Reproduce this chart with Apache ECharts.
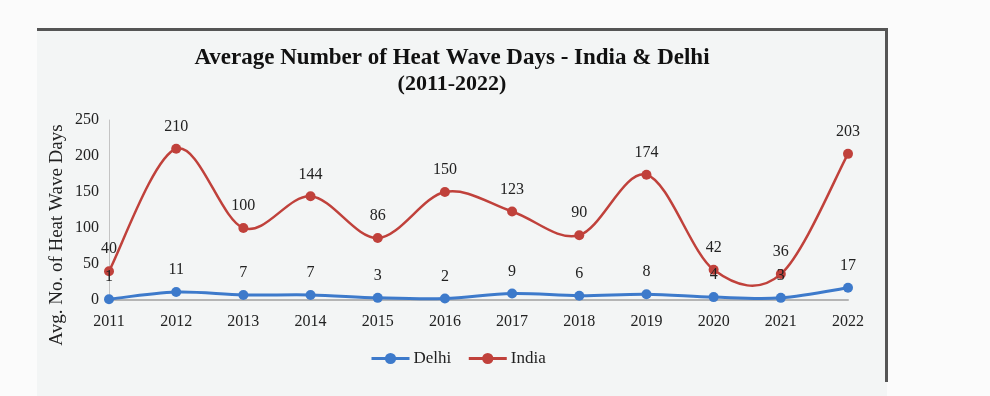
<!DOCTYPE html>
<html>
<head>
<meta charset="utf-8">
<script src="https://cdn.jsdelivr.net/npm/echarts@6/dist/echarts.min.js"></script>
<style>
html,body{margin:0;padding:0;background:#fbfbfb;}
#chart{width:990px;height:396px;}
</style>
</head>
<body>
<div id="chart"></div>
<script>
var years = ['2011','2012','2013','2014','2015','2016','2017','2018','2019','2020','2021','2022'];
var delhi = [1, 11, 7, 7, 3, 2, 9, 6, 8, 4, 3, 17];
var india = [40, 210, 100, 144, 86, 150, 123, 90, 174, 42, 36, 203];
var titleLine1 = 'Average Number of Heat Wave Days - India & Delhi';
var titleLine2 = '(2011-2022)';
var yAxisTitle = 'Avg. No. of Heat Wave Days';

var serif = '"Liberation Serif", "Times New Roman", serif';
var DELHI_COLOR = '#3d7acb';
var INDIA_COLOR = '#c0413b';

// Excel-style (Catmull-Rom) smoothed segment between point i and i+1, using the chart's own scales
function smoothSegment(values, color, width) {
  return function (params, api) {
    var i = params.dataIndex;
    var n = values.length;
    if (i >= n - 1) return null;
    var p0 = api.coord([Math.max(i - 1, 0), values[Math.max(i - 1, 0)]]);
    var p1 = api.coord([i, values[i]]);
    var p2 = api.coord([i + 1, values[i + 1]]);
    var p3 = api.coord([Math.min(i + 2, n - 1), values[Math.min(i + 2, n - 1)]]);
    var k = 1 / 6;
    return {
      type: 'bezierCurve',
      shape: {
        x1: p1[0], y1: p1[1],
        cpx1: p1[0] + (p2[0] - p0[0]) * k, cpy1: p1[1] + (p2[1] - p0[1]) * k,
        cpx2: p2[0] - (p3[0] - p1[0]) * k, cpy2: p2[1] - (p3[1] - p1[1]) * k,
        x2: p2[0], y2: p2[1]
      },
      style: {stroke: color, lineWidth: width, fill: null}
    };
  };
}

function pairs(values) { return values.map(function (v, i) { return [i, v]; }); }

var chart = echarts.init(document.getElementById('chart'));
chart.setOption({
  backgroundColor: '#fbfbfb',
  animation: false,
  graphic: [
    {type: 'rect', z: -10, shape: {x: 37, y: 29, width: 850, height: 367}, style: {fill: '#f3f5f5'}},
    {type: 'line', z: 1, shape: {x1: 37, y1: 29.5, x2: 888, y2: 29.5}, style: {stroke: '#555', lineWidth: 3}},
    {type: 'line', z: 1, shape: {x1: 886.5, y1: 29, x2: 886.5, y2: 382}, style: {stroke: '#555', lineWidth: 3}},
    {type: 'text', x: 452, y: 58, style: {text: titleLine1, font: 'bold 23px ' + serif, fill: '#111', align: 'center', verticalAlign: 'middle'}},
    {type: 'text', x: 452, y: 84, style: {text: titleLine2, font: 'bold 22px ' + serif, fill: '#111', align: 'center', verticalAlign: 'middle'}},
    {type: 'text', x: 57, y: 235, rotation: Math.PI / 2, style: {text: yAxisTitle, font: '19px ' + serif, fill: '#222', align: 'center', verticalAlign: 'middle'}}
  ],
  legend: {
    left: 370, top: 350, padding: 0,
    itemWidth: 38, itemHeight: 14, itemGap: 16,
    textStyle: {fontFamily: serif, fontSize: 17, color: '#222', padding: [0, 0, 0, -1]},
    data: [
      {name: 'Delhi', lineStyle: {color: DELHI_COLOR, width: 3, opacity: 1}},
      {name: 'India', lineStyle: {color: INDIA_COLOR, width: 3, opacity: 1}}
    ]
  },
  grid: {left: 109, right: 142, top: 120, bottom: 96},
  xAxis: {
    type: 'category', data: years, boundaryGap: false,
    axisLine: {lineStyle: {color: '#b5b5b5', width: 2}},
    axisTick: {show: false},
    axisLabel: {fontFamily: serif, fontSize: 16, color: '#222', margin: 14}
  },
  yAxis: {
    type: 'value', min: 0, max: 250, interval: 50,
    axisLine: {show: true, lineStyle: {color: '#c4c4c4', width: 1}},
    axisTick: {show: false},
    splitLine: {show: false},
    axisLabel: {fontFamily: serif, fontSize: 16, color: '#222', margin: 10}
  },
  series: [
    {
      name: 'Delhi curve', type: 'custom', data: pairs(delhi), z: 2,
      encode: {x: 0, y: 1}, silent: true,
      renderItem: smoothSegment(delhi, DELHI_COLOR, 3)
    },
    {
      name: 'India curve', type: 'custom', data: pairs(india), z: 2,
      encode: {x: 0, y: 1}, silent: true,
      renderItem: smoothSegment(india, INDIA_COLOR, 2.5)
    },
    {
      name: 'Delhi', type: 'line', data: delhi, z: 3,
      symbol: 'circle', symbolSize: 10,
      lineStyle: {color: DELHI_COLOR, width: 3, opacity: 0},
      itemStyle: {color: DELHI_COLOR},
      label: {show: true, position: 'top', distance: 9, fontFamily: serif, fontSize: 16, color: '#222'}
    },
    {
      name: 'India', type: 'line', data: india, z: 3,
      symbol: 'circle', symbolSize: 10,
      lineStyle: {color: INDIA_COLOR, width: 2.5, opacity: 0},
      itemStyle: {color: INDIA_COLOR},
      label: {show: true, position: 'top', distance: 9, fontFamily: serif, fontSize: 16, color: '#222'}
    }
  ]
});
</script>
</body>
</html>
